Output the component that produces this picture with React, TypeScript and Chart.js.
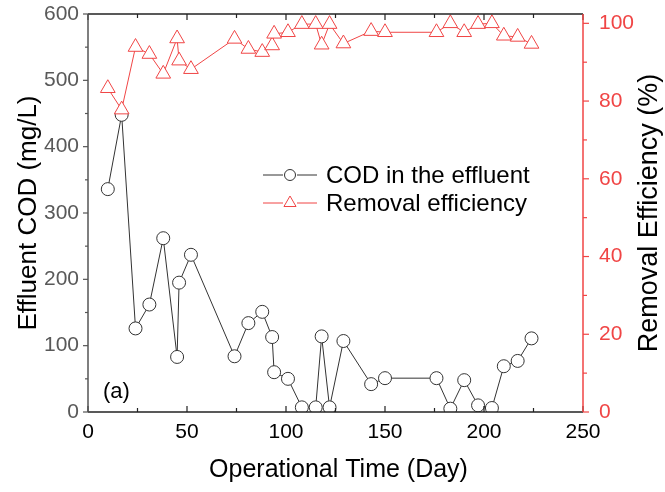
import React, { useEffect, useRef } from "react";
import { Chart, registerables } from "chart.js";

Chart.register(...registerables);

const days = [10, 17, 24, 31, 38, 45, 46, 52, 74, 81, 88, 93, 94, 101, 108, 115, 118, 122, 129, 143, 150, 176, 183, 190, 197, 204, 210, 217, 224];
const codEffluent = [336, 448, 126, 162, 262, 83, 195, 237, 84, 134, 151, 113, 60, 50, 7, 7, 114, 7, 107, 42, 51, 51, 5, 48, 10, 6, 69, 77, 111];
const removalEfficiency = [83.3, 77.8, 93.9, 92.1, 87.0, 96.1, 90.4, 88.2, 96.0, 93.4, 92.6, 94.3, 97.3, 97.7, 99.8, 99.8, 94.5, 99.8, 94.8, 98.0, 97.7, 97.7, 100, 97.7, 99.8, 100, 96.8, 96.5, 94.7];

const xTicks = [0, 50, 100, 150, 200, 250];
const xMinorTicks = [25, 75, 125, 175, 225];
const leftTicks = [0, 100, 200, 300, 400, 500, 600];
const leftMinorTicks = [50, 150, 250, 350, 450, 550];
const rightTicks = [0, 20, 40, 60, 80, 100];
const rightMinorTicks = [10, 30, 50, 70, 90];

const seriesNames = ["COD in the effluent", "Removal efficiency"];
const xTitle = "Operational Time (Day)";
const leftTitle = "Effluent COD (mg/L)";
const rightTitle = "Removal Efficiency (%)";
const panelLabel = "(a)";

const FONT = "'Liberation Sans', Arial, Helvetica, sans-serif";
const RED = "#f04545";
const DARK = "#333333";
const GRAY = "#555555";

const framePlugin = {
  id: "frame",
  afterDraw(chart: any) {
    const ctx = chart.ctx;
    const { left, right, top, bottom } = chart.chartArea;
    const xs = chart.scales.x;
    const yl = chart.scales.y;
    const yr = chart.scales.y1;
    ctx.save();
    ctx.lineCap = "butt";

    // top border
    ctx.strokeStyle = "#222";
    ctx.lineWidth = 1.5;
    ctx.beginPath();
    ctx.moveTo(left, top);
    ctx.lineTo(right, top);
    ctx.stroke();
    // bottom axis
    ctx.beginPath();
    ctx.moveTo(left, bottom);
    ctx.lineTo(right, bottom);
    ctx.stroke();
    // x ticks inward (bottom up, top down)
    ctx.lineWidth = 1.2;
    const xt = (v: number, len: number) => {
      const px = xs.getPixelForValue(v);
      ctx.beginPath();
      ctx.moveTo(px, bottom);
      ctx.lineTo(px, bottom - len);
      ctx.moveTo(px, top);
      ctx.lineTo(px, top + len);
      ctx.stroke();
    };
    xTicks.forEach((v) => xt(v, 6));
    xMinorTicks.forEach((v) => xt(v, 4));

    // left axis
    ctx.strokeStyle = GRAY;
    ctx.lineWidth = 1.5;
    ctx.beginPath();
    ctx.moveTo(left, top);
    ctx.lineTo(left, bottom);
    ctx.stroke();
    ctx.lineWidth = 1.2;
    const ylt = (v: number, len: number) => {
      const py = yl.getPixelForValue(v);
      ctx.beginPath();
      ctx.moveTo(left, py);
      ctx.lineTo(left - len, py);
      ctx.stroke();
    };
    leftTicks.forEach((v) => ylt(v, 5));
    leftMinorTicks.forEach((v) => ylt(v, 3));

    // right axis
    ctx.strokeStyle = RED;
    ctx.lineWidth = 1.5;
    ctx.beginPath();
    ctx.moveTo(right, top);
    ctx.lineTo(right, bottom);
    ctx.stroke();
    ctx.lineWidth = 1.2;
    const yrt = (v: number, len: number) => {
      const py = yr.getPixelForValue(v);
      ctx.beginPath();
      ctx.moveTo(right, py);
      ctx.lineTo(right + len, py);
      ctx.stroke();
    };
    rightTicks.forEach((v) => yrt(v, 6));
    rightMinorTicks.forEach((v) => yrt(v, 4));

    // titles
    ctx.fillStyle = "#000";
    ctx.textAlign = "center";
    ctx.textBaseline = "middle";
    ctx.font = `25px ${FONT}`;
    ctx.fillText(xTitle, (left + right) / 2 + 3, 470);

    const midY = (top + bottom) / 2;
    ctx.save();
    ctx.font = `26px ${FONT}`;
    ctx.translate(29, midY);
    ctx.rotate(-Math.PI / 2);
    ctx.fillText(leftTitle, 0, 0);
    ctx.restore();

    ctx.save();
    ctx.font = `27px ${FONT}`;
    ctx.translate(650, midY);
    ctx.rotate(-Math.PI / 2);
    ctx.fillText(rightTitle, 0, 0);
    ctx.restore();

    // panel label
    ctx.font = `22px ${FONT}`;
    ctx.textAlign = "left";
    ctx.fillText(panelLabel, left + 15, bottom - 20);

    // legend
    const lx = left + 175;
    const rows = [top + 161, top + 189];
    ctx.font = `24px ${FONT}`;
    ctx.textAlign = "left";
    ctx.textBaseline = "middle";
    rows.forEach((ry, i) => {
      const col = i === 0 ? DARK : RED;
      ctx.strokeStyle = col;
      ctx.lineWidth = 1;
      ctx.beginPath();
      ctx.moveTo(lx, ry);
      ctx.lineTo(lx + 20, ry);
      ctx.moveTo(lx + 34, ry);
      ctx.lineTo(lx + 54, ry);
      ctx.stroke();
      ctx.fillStyle = "#fff";
      ctx.beginPath();
      if (i === 0) {
        ctx.arc(lx + 27, ry, 5.5, 0, Math.PI * 2);
      } else {
        const r = 7;
        ctx.moveTo(lx + 27, ry - r);
        ctx.lineTo(lx + 27 + r * 0.866, ry + r / 2);
        ctx.lineTo(lx + 27 - r * 0.866, ry + r / 2);
        ctx.closePath();
      }
      ctx.fill();
      ctx.stroke();
      ctx.fillStyle = "#000";
      ctx.fillText(seriesNames[i], lx + 63, ry + 1);
    });

    ctx.restore();
  },
};

export default function App() {
  const canvasRef = useRef<HTMLCanvasElement | null>(null);

  useEffect(() => {
    if (!canvasRef.current) return;
    const codData = days.map((d, i) => ({ x: d, y: codEffluent[i] }));
    const effData = days.map((d, i) => ({ x: d, y: removalEfficiency[i] }));

    const chart = new Chart(canvasRef.current, {
      type: "line",
      data: {
        datasets: [
          {
            label: seriesNames[0],
            data: codData,
            yAxisID: "y",
            borderColor: DARK,
            borderWidth: 1,
            pointStyle: "circle",
            pointRadius: 6.5,
            pointBorderColor: DARK,
            pointBackgroundColor: "#ffffff",
            pointBorderWidth: 1,
            order: 1,
          },
          {
            label: seriesNames[1],
            data: effData,
            yAxisID: "y1",
            borderColor: RED,
            borderWidth: 1,
            pointStyle: "triangle",
            pointRadius: 8.5,
            pointBorderColor: RED,
            pointBackgroundColor: "#ffffff",
            pointBorderWidth: 1,
            order: 0,
          },
        ],
      },
      options: {
        responsive: false,
        animation: false,
        devicePixelRatio: 1,
        layout: { padding: { top: 14, left: 0, right: 0, bottom: 0 } },
        plugins: {
          legend: { display: false },
          tooltip: { enabled: false },
          title: { display: false },
        },
        scales: {
          x: {
            type: "linear",
            min: 0,
            max: 250,
            grid: { display: false, drawTicks: false },
            border: { display: false },
            afterBuildTicks: (s: any) => {
              s.ticks = xTicks.map((v) => ({ value: v }));
            },
            afterFit: (s: any) => {
              s.height = 80;
              s.paddingLeft = 0;
              s.paddingRight = 0;
            },
            ticks: {
              color: "#000",
              font: { family: FONT, size: 21 },
              padding: 8,
              maxRotation: 0,
            },
          },
          y: {
            type: "linear",
            position: "left",
            min: 0,
            max: 600,
            grid: { display: false, drawTicks: false },
            border: { display: false },
            afterBuildTicks: (s: any) => {
              s.ticks = leftTicks.map((v) => ({ value: v }));
            },
            afterFit: (s: any) => {
              s.width = 88;
              s.paddingTop = 0;
              s.paddingBottom = 0;
            },
            ticks: {
              color: "#595959",
              font: { family: FONT, size: 21 },
              padding: 9,
            },
          },
          y1: {
            type: "linear",
            position: "right",
            min: 0,
            max: 102.4,
            grid: { display: false, drawTicks: false },
            border: { display: false },
            afterBuildTicks: (s: any) => {
              s.ticks = rightTicks.map((v) => ({ value: v }));
            },
            afterFit: (s: any) => {
              s.width = 82;
              s.paddingTop = 0;
              s.paddingBottom = 0;
            },
            ticks: {
              color: RED,
              font: { family: FONT, size: 21 },
              padding: 16,
            },
          },
        },
      },
      plugins: [framePlugin],
    });
    return () => chart.destroy();
  }, []);

  return (
    <div style={{ position: "absolute", left: 0, top: 0, width: 665, height: 492, background: "#fff" }}>
      <canvas ref={canvasRef} width={665} height={492} />
    </div>
  );
}
